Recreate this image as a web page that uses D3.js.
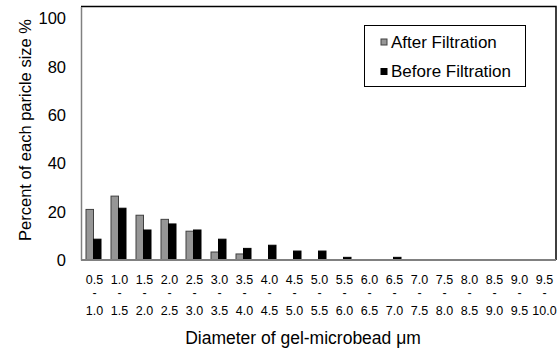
<!DOCTYPE html>
<html>
<head>
<meta charset="utf-8">
<script src="https://cdn.jsdelivr.net/npm/d3@7"></script>
<style>
  body { margin: 0; background: #fff; }
  text { font-family: "Liberation Sans", Arial, sans-serif; fill: #000; }
</style>
</head>
<body>
<div id="chart"></div>
<script>
// size classes (um)
let binStarts = ["0.5", "1.0", "1.5", "2.0", "2.5", "3.0", "3.5", "4.0", "4.5", "5.0",
                 "5.5", "6.0", "6.5", "7.0", "7.5", "8.0", "8.5", "9.0", "9.5"];
let binEnds   = ["1.0", "1.5", "2.0", "2.5", "3.0", "3.5", "4.0", "4.5", "5.0", "5.5",
                 "6.0", "6.5", "7.0", "7.5", "8.0", "8.5", "9.0", "9.5", "10.0"];
let afterFiltration  = [20.9, 26.4, 18.5, 16.8, 11.9, 3.3, 2.5, 0, 0, 0, 0, 0, 0, 0, 0, 0, 0, 0, 0];
let beforeFiltration = [8.6, 21.4, 12.4, 14.9, 12.4, 8.6, 4.8, 6.1, 3.7, 3.7, 1.1, 0, 1.1, 0, 0, 0, 0, 0, 0];
let yTicks = [0, 20, 40, 60, 80, 100];
let seriesNames = ["After Filtration", "Before Filtration"];
let seriesColors = ["#969696", "#000000"];

let width = 557, height = 353;
let plot = {left: 81, right: 556, top: 6.5, bottom: 260};

let svg = d3.select("#chart").append("svg")
    .attr("width", width)
    .attr("height", height);

let data = binStarts.map((s, i) => ({bin: s, values: [afterFiltration[i], beforeFiltration[i]]}));

// scales
let x0 = d3.scaleBand()
    .domain(binStarts)
    .range([plot.left, plot.right])
    .paddingInner(0.4)
    .paddingOuter(0.2);
let x1 = d3.scaleBand()
    .domain([0, 1])
    .range([0, x0.bandwidth()]);
let y = d3.scaleLinear()
    .domain([0, (plot.bottom - plot.top) / 2.42])
    .range([plot.bottom, plot.top]);

// frame: top & right black
svg.append("path")
    .attr("d", `M${plot.left},${plot.top}H${plot.right}V${plot.bottom}`)
    .attr("fill", "none")
    .attr("stroke", "#000")
    .attr("stroke-width", 1.5);

// bars
let groups = svg.append("g").selectAll("g")
    .data(data)
    .join("g")
    .attr("transform", d => `translate(${x0(d.bin)},0)`);
groups.selectAll("rect")
    .data(d => d.values.map((v, k) => ({k: k, v: v})).filter(e => e.v > 0))
    .join("rect")
    .attr("x", e => x1(e.k))
    .attr("y", e => y(e.v))
    .attr("width", x1.bandwidth())
    .attr("height", e => y(0) - y(e.v))
    .attr("fill", e => seriesColors[e.k])
    .attr("stroke", e => e.k === 0 ? "#404040" : "#000")
    .attr("stroke-width", 1);

// y axis
let yAxis = d3.axisLeft(y).tickValues(yTicks).tickSize(0).tickPadding(15);
let yg = svg.append("g")
    .attr("transform", `translate(${plot.left},0)`)
    .call(yAxis);
yg.select(".domain").attr("stroke", "#808080").attr("stroke-width", 1.5);
yg.selectAll("text")
    .style("font-size", "16.5px")
    .attr("dy", "0.35em");

// x axis line
svg.append("line")
    .attr("x1", plot.left).attr("x2", plot.right)
    .attr("y1", plot.bottom).attr("y2", plot.bottom)
    .attr("stroke", "#808080")
    .attr("stroke-width", 2);

// x tick labels (start - end)
let xl = svg.append("g").selectAll("text")
    .data(binStarts)
    .join("text")
    .attr("text-anchor", "middle")
    .style("font-size", "12.5px");
xl.append("tspan")
    .attr("x", d => x0(d) + x0.bandwidth() / 2 + 1)
    .attr("y", 284)
    .text(d => d);
xl.append("tspan")
    .attr("x", d => x0(d) + x0.bandwidth() / 2 + 1)
    .attr("y", 297)
    .text("-");
xl.append("tspan")
    .attr("x", d => x0(d) + x0.bandwidth() / 2 + 1)
    .attr("y", 315)
    .text((d, i) => binEnds[i]);

// axis titles
svg.append("text")
    .attr("x", 303)
    .attr("y", 344)
    .attr("text-anchor", "middle")
    .style("font-size", "17.5px")
    .text("Diameter of gel-microbead \u03bcm");

svg.append("text")
    .attr("transform", "translate(25,130) rotate(-90)")
    .attr("text-anchor", "middle")
    .attr("dominant-baseline", "central")
    .style("font-size", "16.5px")
    .text("Percent of each paricle size %");

// legend
let legend = svg.append("g");
legend.append("rect")
    .attr("x", 364.5).attr("y", 25.5)
    .attr("width", 161).attr("height", 61)
    .attr("fill", "#fff")
    .attr("stroke", "#000")
    .attr("stroke-width", 1);
seriesNames.forEach((name, i) => {
    let cy = 42 + i * 29.5;
    legend.append("rect")
        .attr("x", 381).attr("y", cy - 3)
        .attr("width", 6).attr("height", 6)
        .attr("fill", seriesColors[i])
        .attr("stroke", i === 0 ? "#404040" : "#000");
    legend.append("text")
        .attr("x", 391)
        .attr("y", cy + 5.5)
        .style("font-size", "17px")
        .text(name);
});
</script>
</body>
</html>
